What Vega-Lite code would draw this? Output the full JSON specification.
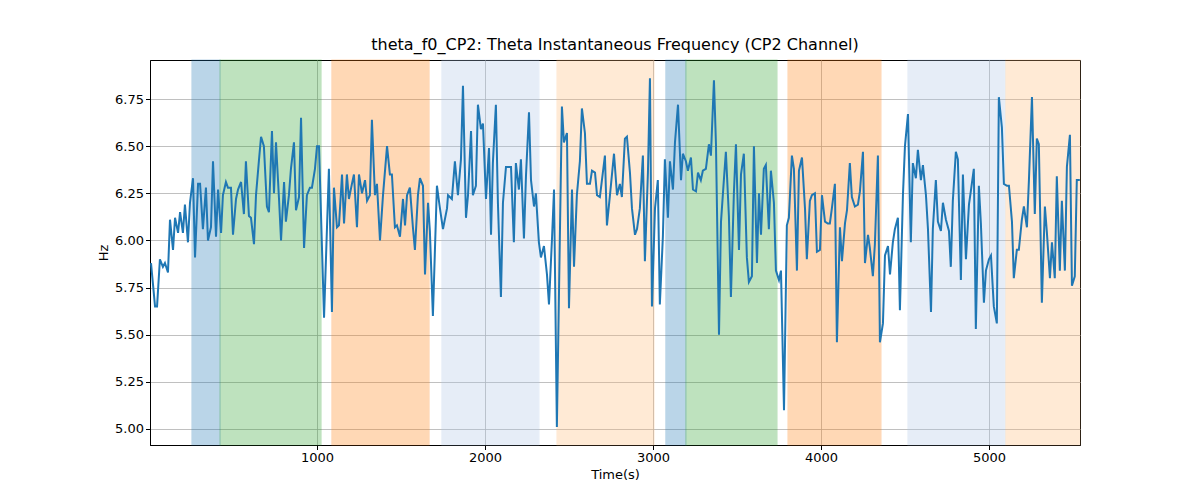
{
  "$schema": "https://vega.github.io/schema/vega-lite/v6.json",
  "width": 930,
  "height": 385,
  "autosize": "none",
  "padding": {"left": 150, "top": 60, "right": 120, "bottom": 55},
  "background": "white",
  "config": {
    "view": {"stroke": "black", "strokeWidth": 1},
    "font": "DejaVu Sans",
    "axis": {"grid": true, "gridColor": "#b0b0b0", "gridWidth": 0.8, "zindex": 1, "domainColor": "black", "tickColor": "black", "labelColor": "black", "labelFontSize": 13, "titleFontSize": 13, "titleFontWeight": "normal", "labelFont": "DejaVu Sans", "titleFont": "DejaVu Sans", "tickSize": 4.5}
  },
  "title": {"text": "theta_f0_CP2: Theta Instantaneous Frequency (CP2 Channel)", "fontSize": 16, "fontWeight": "normal", "font": "DejaVu Sans", "offset": 6},
  "layer": [
    {
      "data": {"values": [
        {"s": 256, "e": 423, "c": "a"},
        {"s": 423, "e": 1024, "c": "b"},
        {"s": 1089, "e": 1667, "c": "c"},
        {"s": 1744, "e": 2321, "c": "d"},
        {"s": 2429, "e": 3006, "c": "e"},
        {"s": 3077, "e": 3196, "c": "a"},
        {"s": 3196, "e": 3738, "c": "b"},
        {"s": 3804, "e": 4357, "c": "c"},
        {"s": 4518, "e": 5095, "c": "d"},
        {"s": 5101, "e": 5542, "c": "e"}
      ]},
      "mark": {"type": "rect", "opacity": 0.3, "strokeWidth": 1.2},
      "encoding": {
        "x": {"field": "s", "type": "quantitative", "scale": {"domain": [6, 5542], "nice": false, "zero": false}, "axis": {"values": [1000, 2000, 3000, 4000, 5000], "title": "Time(s)", "format": "d"}},
        "x2": {"field": "e"},
        "color": {"field": "c", "type": "nominal", "legend": null, "scale": {"domain": ["a", "b", "c", "d", "e"], "range": ["#1f77b4", "#2ca02c", "#ff7f0e", "#aec7e8", "#ffbb78"]}},
        "stroke": {"field": "c", "type": "nominal", "legend": null, "scale": {"domain": ["a", "b", "c", "d", "e"], "range": ["#1f77b4", "#2ca02c", "#ff7f0e", "#aec7e8", "#ffbb78"]}}
      }
    },
    {
      "data": {"values": [
        {"t":12,"v":5.88},{"t":36,"v":5.65},{"t":48,"v":5.65},{"t":65,"v":5.90},{"t":83,"v":5.86},{"t":95,"v":5.88},{"t":113,"v":5.83},{"t":125,"v":6.11},{"t":143,"v":5.95},{"t":155,"v":6.12},{"t":173,"v":6.04},{"t":185,"v":6.15},{"t":202,"v":6.04},{"t":214,"v":6.19},{"t":232,"v":5.99},{"t":244,"v":6.20},{"t":262,"v":6.33},{"t":274,"v":5.91},{"t":292,"v":6.30},{"t":304,"v":6.30},{"t":321,"v":6.06},{"t":339,"v":6.28},{"t":351,"v":6.00},{"t":369,"v":6.07},{"t":381,"v":6.42},{"t":399,"v":6.02},{"t":411,"v":6.27},{"t":429,"v":6.04},{"t":440,"v":6.24},{"t":458,"v":6.31},{"t":470,"v":6.28},{"t":488,"v":6.28},{"t":500,"v":6.03},{"t":518,"v":6.22},{"t":530,"v":6.27},{"t":548,"v":6.31},{"t":565,"v":6.14},{"t":577,"v":6.42},{"t":595,"v":6.13},{"t":607,"v":6.12},{"t":625,"v":5.98},{"t":637,"v":6.24},{"t":655,"v":6.43},{"t":667,"v":6.55},{"t":684,"v":6.50},{"t":702,"v":6.18},{"t":714,"v":6.15},{"t":732,"v":6.58},{"t":744,"v":6.25},{"t":756,"v":6.52},{"t":774,"v":6.22},{"t":786,"v":6.00},{"t":804,"v":6.31},{"t":815,"v":6.10},{"t":833,"v":6.24},{"t":845,"v":6.38},{"t":863,"v":6.52},{"t":875,"v":6.16},{"t":893,"v":6.23},{"t":905,"v":6.65},{"t":923,"v":5.96},{"t":940,"v":6.24},{"t":958,"v":6.28},{"t":970,"v":6.28},{"t":988,"v":6.38},{"t":1000,"v":6.50},{"t":1012,"v":6.50},{"t":1042,"v":5.59},{"t":1071,"v":6.38},{"t":1089,"v":5.62},{"t":1101,"v":6.28},{"t":1119,"v":6.07},{"t":1131,"v":6.08},{"t":1149,"v":6.35},{"t":1161,"v":6.09},{"t":1178,"v":6.35},{"t":1190,"v":6.22},{"t":1208,"v":6.30},{"t":1220,"v":6.35},{"t":1238,"v":6.07},{"t":1250,"v":6.35},{"t":1268,"v":6.25},{"t":1286,"v":6.32},{"t":1298,"v":6.21},{"t":1315,"v":6.24},{"t":1327,"v":6.64},{"t":1345,"v":6.24},{"t":1357,"v":6.30},{"t":1375,"v":6.00},{"t":1393,"v":6.24},{"t":1417,"v":6.50},{"t":1434,"v":6.35},{"t":1446,"v":6.35},{"t":1464,"v":6.07},{"t":1476,"v":6.08},{"t":1494,"v":6.02},{"t":1512,"v":6.22},{"t":1524,"v":6.08},{"t":1536,"v":6.24},{"t":1553,"v":6.28},{"t":1571,"v":6.07},{"t":1583,"v":5.95},{"t":1601,"v":6.24},{"t":1613,"v":6.33},{"t":1631,"v":6.29},{"t":1643,"v":5.82},{"t":1661,"v":6.20},{"t":1672,"v":6.05},{"t":1690,"v":5.60},{"t":1714,"v":6.29},{"t":1732,"v":6.17},{"t":1750,"v":6.06},{"t":1774,"v":6.17},{"t":1780,"v":6.24},{"t":1803,"v":6.22},{"t":1821,"v":6.42},{"t":1839,"v":6.24},{"t":1857,"v":6.43},{"t":1869,"v":6.82},{"t":1887,"v":6.12},{"t":1899,"v":6.24},{"t":1917,"v":6.58},{"t":1928,"v":6.24},{"t":1946,"v":6.29},{"t":1958,"v":6.72},{"t":1976,"v":6.59},{"t":1988,"v":6.62},{"t":2006,"v":6.22},{"t":2024,"v":6.49},{"t":2036,"v":6.03},{"t":2047,"v":6.41},{"t":2065,"v":6.72},{"t":2077,"v":6.20},{"t":2095,"v":5.70},{"t":2107,"v":6.20},{"t":2125,"v":6.39},{"t":2155,"v":6.39},{"t":2172,"v":5.99},{"t":2184,"v":6.41},{"t":2202,"v":6.27},{"t":2214,"v":6.43},{"t":2232,"v":6.01},{"t":2244,"v":6.34},{"t":2262,"v":6.68},{"t":2274,"v":6.32},{"t":2292,"v":6.18},{"t":2303,"v":6.25},{"t":2321,"v":5.99},{"t":2333,"v":5.91},{"t":2351,"v":5.97},{"t":2369,"v":5.82},{"t":2381,"v":5.66},{"t":2399,"v":6.01},{"t":2411,"v":6.27},{"t":2428,"v":5.01},{"t":2458,"v":6.71},{"t":2470,"v":6.52},{"t":2488,"v":6.57},{"t":2500,"v":5.64},{"t":2518,"v":6.27},{"t":2530,"v":5.86},{"t":2547,"v":6.24},{"t":2565,"v":6.42},{"t":2577,"v":6.70},{"t":2595,"v":6.57},{"t":2607,"v":6.30},{"t":2625,"v":6.30},{"t":2637,"v":6.37},{"t":2655,"v":6.36},{"t":2667,"v":6.24},{"t":2684,"v":6.23},{"t":2714,"v":6.45},{"t":2726,"v":6.08},{"t":2744,"v":6.24},{"t":2768,"v":6.46},{"t":2786,"v":6.24},{"t":2803,"v":6.30},{"t":2815,"v":6.23},{"t":2833,"v":6.54},{"t":2845,"v":6.55},{"t":2863,"v":6.36},{"t":2875,"v":6.17},{"t":2893,"v":6.03},{"t":2905,"v":6.06},{"t":2922,"v":6.17},{"t":2940,"v":6.45},{"t":2952,"v":5.89},{"t":2970,"v":6.36},{"t":2982,"v":6.86},{"t":2994,"v":5.65},{"t":3012,"v":6.17},{"t":3029,"v":6.32},{"t":3041,"v":5.66},{"t":3059,"v":6.02},{"t":3071,"v":6.43},{"t":3089,"v":6.12},{"t":3101,"v":6.42},{"t":3119,"v":6.27},{"t":3131,"v":6.52},{"t":3149,"v":6.72},{"t":3167,"v":6.32},{"t":3178,"v":6.46},{"t":3196,"v":6.42},{"t":3208,"v":6.37},{"t":3226,"v":6.44},{"t":3238,"v":6.27},{"t":3256,"v":6.26},{"t":3268,"v":6.36},{"t":3285,"v":6.32},{"t":3297,"v":6.37},{"t":3315,"v":6.38},{"t":3333,"v":6.51},{"t":3345,"v":6.45},{"t":3363,"v":6.85},{"t":3375,"v":6.51},{"t":3393,"v":5.50},{"t":3405,"v":6.10},{"t":3422,"v":6.32},{"t":3434,"v":6.47},{"t":3452,"v":6.13},{"t":3464,"v":5.70},{"t":3482,"v":6.26},{"t":3494,"v":6.51},{"t":3512,"v":5.95},{"t":3524,"v":6.35},{"t":3541,"v":6.46},{"t":3559,"v":5.91},{"t":3571,"v":5.78},{"t":3589,"v":5.81},{"t":3601,"v":6.50},{"t":3619,"v":5.88},{"t":3631,"v":6.25},{"t":3643,"v":6.03},{"t":3660,"v":6.38},{"t":3672,"v":6.40},{"t":3690,"v":6.06},{"t":3702,"v":6.37},{"t":3720,"v":6.20},{"t":3732,"v":5.84},{"t":3750,"v":5.79},{"t":3762,"v":5.84},{"t":3780,"v":5.10},{"t":3797,"v":6.08},{"t":3809,"v":6.12},{"t":3827,"v":6.45},{"t":3839,"v":6.38},{"t":3857,"v":5.84},{"t":3869,"v":6.37},{"t":3887,"v":6.44},{"t":3905,"v":6.17},{"t":3916,"v":5.90},{"t":3934,"v":6.21},{"t":3946,"v":6.24},{"t":3964,"v":6.25},{"t":3976,"v":5.94},{"t":3994,"v":5.95},{"t":4006,"v":6.24},{"t":4024,"v":6.10},{"t":4041,"v":6.09},{"t":4053,"v":6.09},{"t":4065,"v":6.17},{"t":4083,"v":6.30},{"t":4095,"v":5.46},{"t":4113,"v":6.07},{"t":4125,"v":5.89},{"t":4143,"v":6.09},{"t":4155,"v":6.16},{"t":4172,"v":6.41},{"t":4184,"v":6.23},{"t":4202,"v":6.18},{"t":4220,"v":6.19},{"t":4232,"v":6.26},{"t":4250,"v":6.47},{"t":4262,"v":5.88},{"t":4280,"v":6.03},{"t":4291,"v":5.96},{"t":4309,"v":5.81},{"t":4321,"v":5.98},{"t":4339,"v":6.45},{"t":4351,"v":5.46},{"t":4369,"v":5.56},{"t":4381,"v":5.92},{"t":4399,"v":5.97},{"t":4411,"v":5.82},{"t":4428,"v":5.99},{"t":4440,"v":6.06},{"t":4458,"v":6.12},{"t":4470,"v":5.63},{"t":4488,"v":6.24},{"t":4500,"v":6.50},{"t":4518,"v":6.67},{"t":4535,"v":5.99},{"t":4547,"v":6.41},{"t":4565,"v":6.33},{"t":4577,"v":6.48},{"t":4595,"v":6.32},{"t":4607,"v":6.40},{"t":4625,"v":6.24},{"t":4637,"v":6.06},{"t":4655,"v":5.62},{"t":4666,"v":6.06},{"t":4684,"v":6.32},{"t":4696,"v":6.10},{"t":4714,"v":6.05},{"t":4726,"v":6.20},{"t":4744,"v":6.11},{"t":4762,"v":6.05},{"t":4773,"v":5.86},{"t":4785,"v":6.21},{"t":4803,"v":6.47},{"t":4815,"v":6.43},{"t":4833,"v":5.79},{"t":4845,"v":6.35},{"t":4863,"v":5.90},{"t":4881,"v":6.19},{"t":4892,"v":6.26},{"t":4910,"v":6.38},{"t":4922,"v":5.53},{"t":4940,"v":6.29},{"t":4952,"v":6.09},{"t":4970,"v":5.67},{"t":4982,"v":5.84},{"t":5000,"v":5.90},{"t":5012,"v":5.92},{"t":5029,"v":5.65},{"t":5047,"v":5.56},{"t":5059,"v":6.76},{"t":5077,"v":6.60},{"t":5089,"v":6.30},{"t":5107,"v":6.29},{"t":5119,"v":6.29},{"t":5137,"v":6.10},{"t":5148,"v":5.80},{"t":5166,"v":5.95},{"t":5178,"v":5.95},{"t":5196,"v":6.11},{"t":5208,"v":6.18},{"t":5226,"v":6.07},{"t":5238,"v":6.32},{"t":5256,"v":6.76},{"t":5273,"v":6.14},{"t":5285,"v":6.54},{"t":5297,"v":6.51},{"t":5315,"v":5.67},{"t":5333,"v":6.18},{"t":5345,"v":6.04},{"t":5363,"v":5.80},{"t":5375,"v":5.99},{"t":5392,"v":5.80},{"t":5404,"v":6.34},{"t":5422,"v":5.84},{"t":5434,"v":6.21},{"t":5452,"v":5.84},{"t":5464,"v":6.39},{"t":5482,"v":6.56},{"t":5494,"v":5.76},{"t":5511,"v":5.81},{"t":5523,"v":6.32},{"t":5541,"v":6.32}
      ]},
      "mark": {"type": "line", "color": "#1f77b4", "strokeWidth": 2, "clip": true},
      "encoding": {
        "x": {"field": "t", "type": "quantitative"},
        "y": {"field": "v", "type": "quantitative", "scale": {"domain": [4.915, 6.957], "nice": false, "zero": false}, "axis": {"values": [5.0, 5.25, 5.5, 5.75, 6.0, 6.25, 6.5, 6.75], "format": ".2f", "title": "Hz"}}
      }
    }
  ]
}
